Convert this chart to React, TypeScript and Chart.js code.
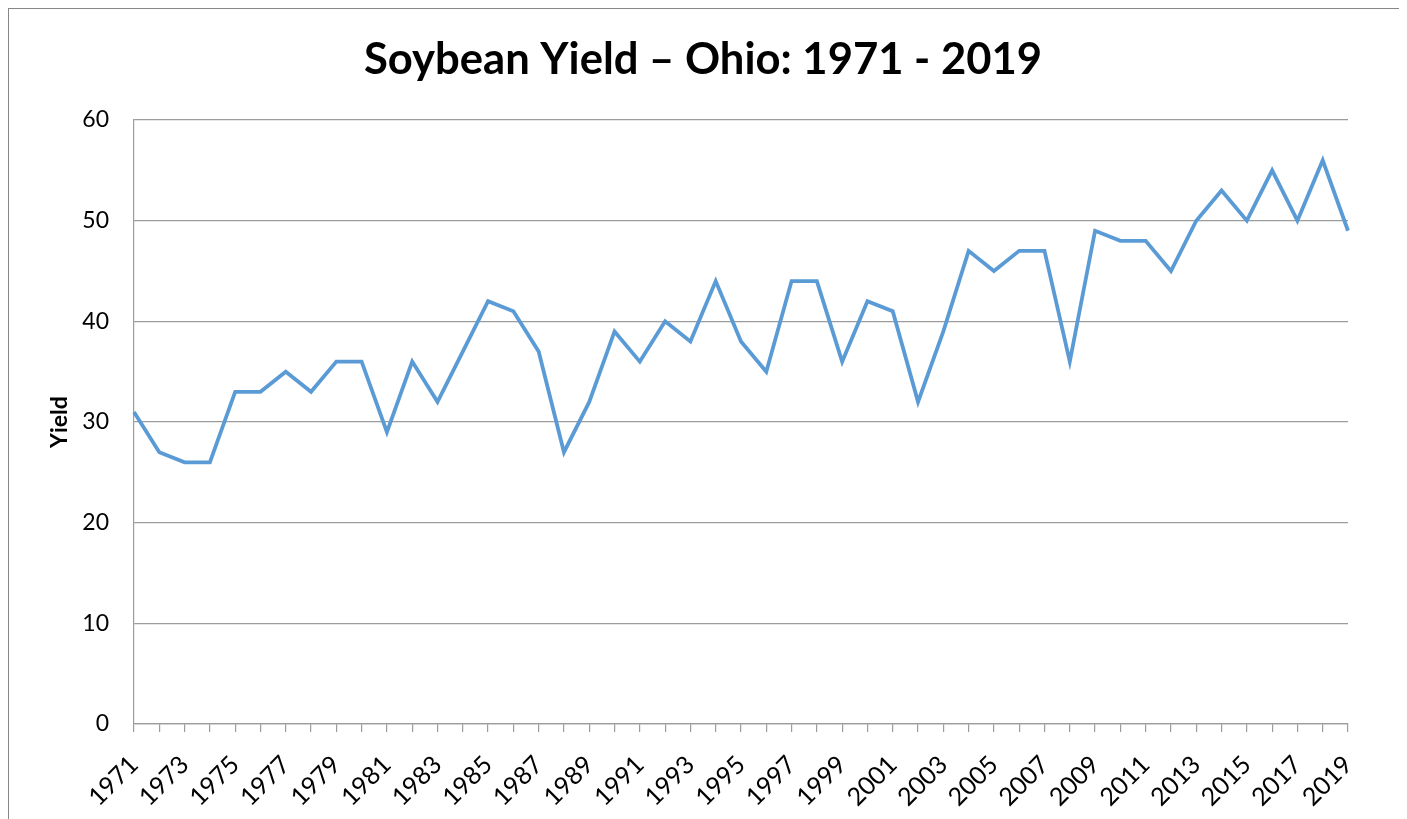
import React, { useEffect, useRef } from "react";
import { Chart, registerables } from "chart.js";

Chart.register(...registerables);

const years: string[] = [
  "1971", "1972", "1973", "1974", "1975", "1976", "1977", "1978", "1979", "1980",
  "1981", "1982", "1983", "1984", "1985", "1986", "1987", "1988", "1989", "1990",
  "1991", "1992", "1993", "1994", "1995", "1996", "1997", "1998", "1999", "2000",
  "2001", "2002", "2003", "2004", "2005", "2006", "2007", "2008", "2009", "2010",
  "2011", "2012", "2013", "2014", "2015", "2016", "2017", "2018", "2019",
];

const yieldValues: number[] = [
  31, 27, 26, 26, 33, 33, 35, 33, 36, 36,
  29, 36, 32, 37, 42, 41, 37, 27, 32, 39,
  36, 40, 38, 44, 38, 35, 44, 44, 36, 42,
  41, 32, 39, 47, 45, 47, 47, 36, 49, 48,
  48, 45, 50, 53, 50, 55, 50, 56, 49,
];

const titleText = "Soybean Yield \u2013 Ohio: 1971 - 2019";
const yAxisTitle = "Yield";
const yMin = 0;
const yMax = 60;
const yStep = 10;

export default function App() {
  const canvasRef = useRef<HTMLCanvasElement | null>(null);

  useEffect(() => {
    if (!canvasRef.current) return;
    const grid = "#9c9c9c";
    const chart = new Chart(canvasRef.current, {
      type: "line",
      data: {
        labels: years,
        datasets: [
          {
            label: "Yield",
            data: yieldValues,
            borderColor: "#5B9BD5",
            backgroundColor: "#5B9BD5",
            borderWidth: 3.8,
            pointRadius: 0,
            tension: 0,
            fill: false,
          },
        ],
      },
      options: {
        responsive: false,
        animation: false,
        layout: { padding: { left: 30, right: 34, top: 0, bottom: 0 } },
        plugins: {
          legend: { display: false },
          tooltip: { enabled: false },
          title: {
            display: true,
            text: titleText,
            color: "#000",
            font: { family: "Lato", size: 43.6, weight: "bold", lineHeight: 1.2 },
            padding: { top: 25, bottom: 33.7 },
          },
        },
        scales: {
          x: {
            type: "category",
            offset: false,
            grid: {
              display: true,
              drawOnChartArea: false,
              drawTicks: true,
              tickLength: 8,
              color: grid,
              lineWidth: 1.2,
            },
            border: { display: true, color: grid, width: 1.2 },
            ticks: {
              autoSkip: false,
              maxRotation: 45,
              minRotation: 45,
              padding: 18,
              color: "#000",
              font: { family: "Lato", size: 25 },
              callback: (_v: any, i: number) => (i % 2 === 0 ? years[i] : ""),
            },
            afterFit: (scale: any) => {
              scale.height = 95;
            },
          },
          y: {
            min: yMin,
            max: yMax,
            grid: {
              color: grid,
              lineWidth: 1.2,
              drawTicks: false,
            },
            border: { display: true, color: grid, width: 1.2 },
            ticks: {
              stepSize: yStep,
              padding: 25,
              color: "#000",
              font: { family: "Lato", size: 23 },
            },
            title: {
              display: true,
              text: yAxisTitle,
              color: "#000",
              font: { family: "Lato", size: 23, weight: "bold", lineHeight: 1.2 },
              padding: { top: 7, bottom: 0 },
            },
            afterFit: (scale: any) => {
              scale.width = 95;
            },
          },
          yRight: {
            type: "linear",
            position: "right",
            display: true,
            grid: { display: false, drawTicks: false },
            border: { display: false },
            ticks: { display: false },
            afterFit: (scale: any) => {
              scale.width = 19;
            },
          },
        },
      },
    });
    return () => chart.destroy();
  }, []);

  return (
    <div
      style={{
        width: 1392,
        height: 830,
        border: "1px solid #878787",
        position: "relative",
        background: "#fff",
      }}
    >
      <canvas
        ref={canvasRef}
        width={1392}
        height={810}
        style={{ display: "block", width: 1392, height: 810 }}
      />
    </div>
  );
}
